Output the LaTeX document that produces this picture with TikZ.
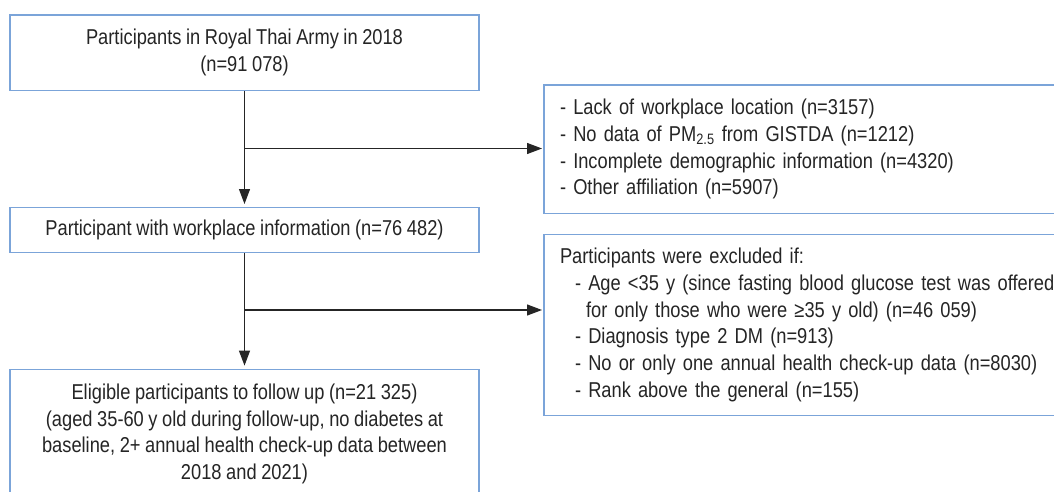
\documentclass[tikz,border=0pt]{standalone}
\usepackage{fontspec}
\setmainfont{Liberation Sans}[FakeStretch=0.85,WordSpace=0.9]
\usetikzlibrary{arrows.meta}
\definecolor{boxblue}{HTML}{7BA4D9}
\definecolor{ink}{HTML}{252525}
\begin{document}
\begin{tikzpicture}[x=1pt,y=-1pt,
  box/.style={draw=boxblue,line width=1.4pt,rectangle,inner sep=0pt,text=ink,
    font=\fontsize{21.5}{26.7}\selectfont},
  sidebox/.style={box,inner xsep=16pt,text width=560pt,align=left},
  flow/.style={draw=ink,line width=1.2pt,-{Triangle[length=15pt,width=11pt]}}]
\clip (0,0) rectangle (1054,492);
\fill[white] (0,0) rectangle (1054,492);

% main column
\node[box,minimum width=469pt,minimum height=75.5pt,align=center] (n1) at (244.5,52.75)
  {Participants in Royal Thai Army in 2018\\(n=91 078)};
\node[box,minimum width=469pt,minimum height=45pt,align=center] (n2) at (244.5,230.2)
  {Participant with workplace information (n=76 482)};
\node[box,minimum width=469pt,minimum height=129pt,align=center] (n3) at (244.5,433.8)
  {Eligible participants to follow up (n=21 325)\\
   (aged 35-60 y old during follow-up, no diabetes at\\
   baseline, 2+ annual health check-up data between\\
   2018 and 2021)};

% exclusion boxes
\node[sidebox,minimum height=128.5pt] (x1) at (840,149.25)
  {- Lack of workplace location (n=3157)\\
   - No data of PM\textsubscript{2.5} from GISTDA (n=1212)\\
   - Incomplete demographic information (n=4320)\\
   - Other affiliation (n=5907)};
\node[sidebox,minimum height=181.4pt] (x2) at (840,325)
  {Participants were excluded if:\\
   \hspace*{15pt}- Age <35 y (since fasting blood glucose test was offered\\
   \hspace*{26pt}for only those who were ≥35 y old) (n=46 059)\\
   \hspace*{15pt}- Diagnosis type 2 DM (n=913)\\
   \hspace*{15pt}- No or only one annual health check-up data (n=8030)\\
   \hspace*{15pt}- Rank above the general (n=155)};

% connectors
\coordinate (j1) at (244.5,148.5);
\coordinate (j2) at (244.5,310);
\draw[flow,shorten >=3pt] (n1) -- (n2);
\draw[flow,shorten >=1.3pt] (j1) -- (j1 -| x1.west);
\draw[flow,shorten >=3pt] (n2) -- (n3);
\draw[flow,shorten >=1.3pt] (j2) -- (j2 -| x2.west);
\end{tikzpicture}
\end{document}
